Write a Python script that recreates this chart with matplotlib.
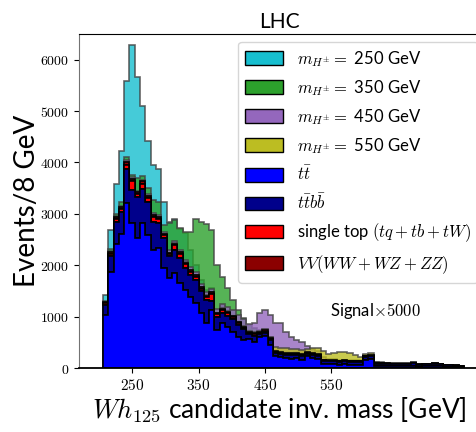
import numpy as np
import matplotlib
matplotlib.use("Agg")
import matplotlib.pyplot as plt
from matplotlib.patches import Patch

plt.rcParams['font.family'] = ['Lato', 'DejaVu Sans']
plt.rcParams['mathtext.fontset'] = 'cm'

# 8 GeV bins from 206 to 750 GeV
bin_lo = 206
bin_w = 8
n_bins = 68

tt = [1030, 1860, 2410, 2610, 3220, 2820, 2530, 2820, 2590, 2300,
      2330, 1940, 1750, 1850, 1650, 1520, 1390, 1260, 1070, 870,
      1130, 740, 870, 800, 700, 610, 550, 560, 510, 600,
      620, 450, 230, 210, 190, 170, 200, 160, 230, 190,
      180, 80, 70, 70, 60, 70, 60, 60, 60, 160,
      170, 40, 40, 40, 30, 30, 30, 30, 40, 20,
      30, 30, 40, 30, 20, 20, 20, 10]
ttbb = [200, 320, 430, 420, 650, 640, 800, 660, 650, 550,
        500, 590, 420, 450, 490, 420, 420, 455, 420, 456,
        170, 260, 200, 220, 250, 230, 200, 100, 120, 60,
        60, 100, 60, 60, 70, 80, 60, 80, 50, 70,
        60, 60, 60, 60, 60, 60, 60, 60, 60, 60,
        60, 40, 40, 40, 40, 40, 40, 40, 50, 40,
        40, 40, 40, 40, 30, 30, 20, 20]
single_top = [30, 40, 60, 60, 90, 180, 50, 110, 60, 80,
              70, 50, 40, 90, 80, 80, 60, 60, 50, 60,
              140, 50, 60, 50, 40, 30, 30, 30, 40, 20,
              30, 20, 30, 20, 20, 20, 20, 20, 15, 15,
              15, 10, 10, 10, 10, 10, 10, 10, 10, 10,
              10, 10, 10, 5, 5, 5, 5, 5, 5, 5,
              5, 5, 5, 5, 5, 5, 5, 5]
vv = [20, 30, 40, 40, 50, 40, 40, 40, 40, 40,
      30, 30, 30, 30, 30, 30, 30, 30, 30, 20,
      30, 20, 20, 20, 20, 20, 20, 20, 20, 20,
      20, 20, 20, 20, 20, 15, 15, 15, 15, 15,
      15, 10, 10, 10, 10, 10, 10, 10, 10, 10,
      10, 10, 10, 10, 10, 10, 10, 10, 10, 10,
      5, 5, 5, 5, 5, 5, 5, 5]

# signals (x5000), drawn on top of the total background
sig250 = [140, 430, 640, 1085, 1570, 2600, 2240, 1470, 1080, 985,
          940, 630, 610, 480, 450, 570, 400, 200, 150, 120,
          80, 60, 50, 40, 30, 30, 20, 20, 10, 10,
          10, 10, 5, 5, 5, 5, 5, 5, 0, 0,
          0, 0, 0, 0, 0, 0, 0, 0, 0, 0,
          0, 0, 0, 0, 0, 0, 0, 0, 0, 0,
          0, 0, 0, 0, 0, 0, 0, 0]
sig350 = [30, 60, 50, 110, 100, 80, 275, 100, 160, 300,
          310, 180, 580, 460, 470, 595, 750, 1090, 1280, 1400,
          1220, 940, 630, 460, 320, 240, 170, 130, 80, 30,
          30, 20, 20, 15, 15, 10, 10, 10, 10, 10,
          5, 5, 5, 5, 5, 5, 5, 5, 5, 5,
          5, 5, 5, 5, 5, 5, 5, 5, 5, 5,
          5, 5, 5, 5, 5, 5, 5, 5]
sig450 = [10, 20, 20, 30, 30, 30, 30, 30, 40, 40,
          40, 40, 50, 50, 50, 60, 60, 60, 70, 70,
          70, 80, 90, 100, 120, 140, 160, 150, 190, 366,
          400, 443, 531, 561, 408, 326, 251, 238, 119, 87,
          68, 60, 20, 20, 15, 15, 10, 10, 10, 10,
          10, 10, 5, 5, 5, 5, 5, 5, 5, 5,
          5, 5, 5, 5, 5, 5, 5, 5]
sig550 = [5, 5, 5, 5, 5, 5, 5, 5, 5, 5,
          5, 5, 5, 5, 5, 5, 5, 5, 5, 5,
          5, 10, 10, 10, 10, 10, 10, 10, 20, 20,
          20, 20, 60, 80, 90, 80, 80, 80, 60, 100,
          110, 170, 130, 150, 170, 160, 160, 110, 70, 40,
          40, 20, 15, 10, 10, 10, 10, 10, 10, 10,
          5, 5, 5, 5, 5, 5, 5, 5]

xticks = [250, 350, 450, 550]
xtick_labels = ['$250$', '$350$', '$450$', '$550$']
yticks = [0, 1000, 2000, 3000, 4000, 5000, 6000]
ytick_labels = ['$0$', '$1000$', '$2000$', '$3000$', '$4000$', '$5000$', '$6000$']

edges = bin_lo + bin_w * np.arange(n_bins + 1)
centers = 0.5 * (edges[:-1] + edges[1:])

bkg = [np.array(tt), np.array(ttbb), np.array(single_top), np.array(vv)]
bkg_total = sum(bkg)

sig_list = [sig250, sig350, sig450, sig550]
sig_colors = ['#17becf', '#2ca02c', '#9467bd', '#bcbd22']
sig_labels = [r'$m_{H^{\pm}} =$ 250 GeV', r'$m_{H^{\pm}} =$ 350 GeV',
              r'$m_{H^{\pm}} =$ 450 GeV', r'$m_{H^{\pm}} =$ 550 GeV']
bkg_colors = ['#0000ff', '#00008b', '#ff0000', '#8b0000']
bkg_labels = [r'$t\bar{t}$', r'$t\bar{t}b\bar{b}$',
              r'single top $(tq+tb+tW)$', r'$VV(WW+WZ+ZZ)$']

fig = plt.figure(figsize=(4.77, 4.32), dpi=100)
ax = fig.add_axes([79 / 477, 64 / 432, 401 / 477, 334 / 432])

# signal + background, semi transparent
for s, c in zip(sig_list, sig_colors):
    ax.hist(centers, bins=edges, weights=bkg_total + np.array(s),
            histtype='stepfilled', facecolor=c, edgecolor='0.25',
            alpha=0.8, linewidth=1.2)

# stacked background
ax.hist([centers] * 4, bins=edges, weights=bkg, stacked=True,
        histtype='stepfilled', color=bkg_colors, edgecolor='black',
        linewidth=1.2)

ax.set_xlim(170, 774)
ax.set_ylim(0, 6500)
ax.set_xticks(xticks, labels=xtick_labels, fontsize=11)
ax.set_yticks(yticks, labels=ytick_labels, fontsize=10)
ax.spines['left'].set_color('0.45')
ax.spines['bottom'].set_linewidth(1.3)

ax.set_title('LHC', fontsize=15, pad=4)
ax.set_xlabel(r'$Wh_{125}$ candidate inv. mass [GeV]', fontsize=19, labelpad=2)
ax.set_ylabel('Events/8 GeV', fontsize=20, labelpad=0)

ax.text(616, 1111, r'Signal$\times 5000$', fontsize=12, ha='center', va='center')

handles = [Patch(facecolor=c, edgecolor='black') for c in sig_colors + bkg_colors]
ax.legend(handles, sig_labels + bkg_labels, loc='upper left',
          bbox_to_anchor=(0.397, 0.976), fontsize=12, labelspacing=0.55,
          handlelength=2.3, handleheight=0.9, borderaxespad=0.0)

fig.savefig('out.png', dpi=100)
